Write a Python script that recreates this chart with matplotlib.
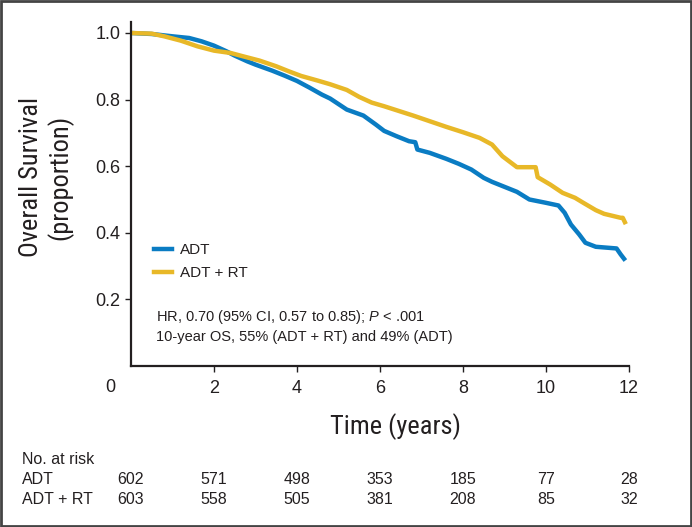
import matplotlib
matplotlib.use("Agg")
import matplotlib.pyplot as plt
import matplotlib.transforms as mtransforms
from matplotlib.patches import Rectangle

plt.rcParams['font.family'] = ['Liberation Sans', 'DejaVu Sans']
plt.rcParams['mathtext.fontset'] = 'custom'
plt.rcParams['mathtext.it'] = 'Liberation Sans:italic'
plt.rcParams['mathtext.rm'] = 'Liberation Sans'

COND = ['Roboto Condensed', 'Liberation Sans']
TXT = '#231f20'

# Kaplan-Meier curves
adt_t = [0.0, 0.5, 1.0, 1.4, 1.7, 2.0, 2.3, 2.5, 2.8, 3.0, 3.4, 3.7, 4.0, 4.3, 4.6,
         4.8, 5.2, 5.6, 5.9, 6.1, 6.4, 6.7, 6.85, 6.9, 7.2, 7.6, 7.9, 8.2, 8.5, 8.7, 9.0,
         9.3, 9.6, 10.0, 10.3, 10.45, 10.6, 10.8, 10.95, 11.2, 11.7, 11.8, 11.88]
adt_s = [1.000, 0.997, 0.990, 0.985, 0.975, 0.962, 0.945, 0.932, 0.915, 0.905, 0.887,
         0.872, 0.856, 0.836, 0.815, 0.803, 0.770, 0.752, 0.725, 0.706, 0.690, 0.675,
         0.672, 0.650, 0.640, 0.622, 0.607, 0.590, 0.565, 0.553, 0.538, 0.523, 0.500,
         0.490, 0.482, 0.460, 0.425, 0.395, 0.370, 0.358, 0.353, 0.335, 0.322]

rt_t = [0.0, 0.5, 0.8, 1.2, 1.6, 2.0, 2.4, 2.7, 3.1, 3.5, 3.8, 4.1, 4.5, 4.8, 5.2,
        5.5, 5.8, 6.1, 6.4, 6.8, 7.2, 7.6, 8.0, 8.4, 8.7, 8.95, 9.3, 9.75, 9.8, 10.1,
        10.4, 10.7, 10.9, 11.2, 11.4, 11.8, 11.85, 11.9]
rt_s = [1.000, 0.998, 0.990, 0.977, 0.960, 0.947, 0.940, 0.930, 0.917, 0.900, 0.885,
        0.871, 0.857, 0.846, 0.829, 0.808, 0.791, 0.780, 0.768, 0.752, 0.735, 0.718,
        0.702, 0.685, 0.665, 0.630, 0.597, 0.597, 0.567, 0.545, 0.520, 0.505, 0.490,
        0.468, 0.457, 0.445, 0.445, 0.432]

# number at risk table
risk_times = [0, 2, 4, 6, 8, 10, 12]
risk_adt = [602, 571, 498, 353, 185, 77, 28]
risk_rt = [603, 558, 505, 381, 208, 85, 32]

blue = '#0a7cc3'
gold = '#e8b828'

fig = plt.figure(figsize=(6.92, 5.27), dpi=100)
ax = fig.add_axes([131 / 692, 1 - 366 / 527, 498 / 692, 344 / 527])

ax.plot(adt_t, adt_s, color=blue, lw=3.2, label='ADT')
ax.plot(rt_t, rt_s, color=gold, lw=3.2, label='ADT + RT')

ax.set_xlim(0, 12)
ax.set_ylim(0, 1.033)
ax.set_xticks([2, 4, 6, 8, 10, 12])
ax.set_yticks([0.2, 0.4, 0.6, 0.8, 1.0])
ax.set_yticklabels(['0.2', '0.4', '0.6', '0.8', '1.0'])
for s in ['top', 'right']:
    ax.spines[s].set_visible(False)
for s in ['left', 'bottom']:
    ax.spines[s].set_linewidth(1.6)
    ax.spines[s].set_color(TXT)
ax.tick_params(direction='out', length=4.5, width=1, colors=TXT, labelsize=13, pad=3)
ax.tick_params(axis='x', pad=5.5)

fig.text(46 / 692, 1 - 177 / 527, 'Overall Survival\n(proportion)', fontsize=19,
         family=COND, color=TXT, rotation=90, ha='center', va='center',
         multialignment='center', linespacing=1.15)
fig.text(110.7 / 692, 1 - 387 / 527, '0', fontsize=13, color=TXT, ha='center', va='center')
fig.text(395 / 692, 1 - 427 / 527, 'Time (years)', fontsize=19, family=COND,
         color=TXT, ha='center', va='center')

leg = ax.legend(loc='upper left', bbox_to_anchor=(0.046, 0.357), frameon=False,
                fontsize=11, handlelength=1.2, handletextpad=0.5, labelspacing=0.6,
                borderpad=0, borderaxespad=0)
for t in leg.get_texts():
    t.set_color(TXT)

ax.text(0.05, 0.142, 'HR, 0.70 (95% CI, 0.57 to 0.85); $\\mathit{P}$ < .001',
        transform=ax.transAxes, fontsize=10.5, color=TXT, va='center')
ax.text(0.05, 0.084, '10-year OS, 55% (ADT + RT) and 49% (ADT)',
        transform=ax.transAxes, fontsize=10.5, color=TXT, va='center')

# at-risk table
tr = mtransforms.blended_transform_factory(ax.transData, fig.transFigure)
fig.text(22 / 692, 1 - 459 / 527, 'No. at risk', fontsize=11.5, color=TXT, va='center')
fig.text(22 / 692, 1 - 479 / 527, 'ADT', fontsize=11.5, color=TXT, va='center')
fig.text(22 / 692, 1 - 499 / 527, 'ADT + RT', fontsize=11.5, color=TXT, va='center')
for x, a, r in zip(risk_times, risk_adt, risk_rt):
    ax.text(x, 1 - 479 / 527, str(a), transform=tr, fontsize=11.5, color=TXT,
            ha='center', va='center', clip_on=False)
    ax.text(x, 1 - 499 / 527, str(r), transform=tr, fontsize=11.5, color=TXT,
            ha='center', va='center', clip_on=False)

fig.patches.append(Rectangle((0.002, 0.002), 0.996, 0.996, transform=fig.transFigure,
                             fill=False, edgecolor='#444444', lw=2))

fig.savefig('out.png', dpi=100)
